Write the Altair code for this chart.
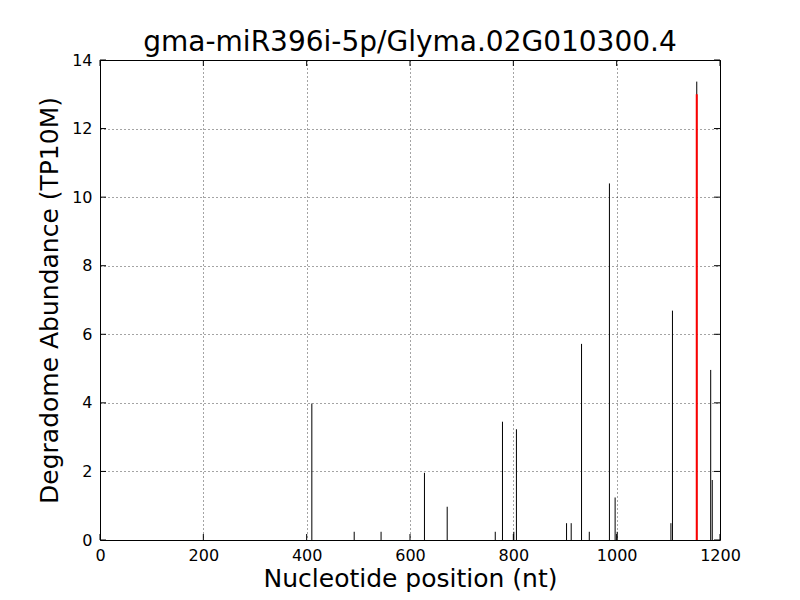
import altair as alt
import pandas as pd

# ---------------- data ----------------
chart_title = "gma-miR396i-5p/Glyma.02G010300.4"
x_title = "Nucleotide position (nt)"
y_title = "Degradome Abundance (TP10M)"

positions = [410, 492, 544, 628, 672, 765, 779, 801, 806, 903, 912, 932, 947,
             986, 997, 1001, 1105, 1108, 1155, 1182, 1185]
abundance = [3.98, 0.24, 0.24, 1.96, 0.97, 0.24, 3.45, 0.24, 3.23, 0.49, 0.49,
             5.72, 0.24, 10.40, 1.24, 0.24, 0.49, 6.69, 13.37, 4.96, 1.75]

cleavage_position = [1155]
cleavage_abundance = [13.0]

x_ticks = [0, 200, 400, 600, 800, 1000, 1200]
y_ticks = [0, 2, 4, 6, 8, 10, 12, 14]
x_domain = [0, 1200]
y_domain = [0, 14]

# ---------------- layout / style ----------------
W, H = 620, 480
FONT = "DejaVu Sans"
TICK_PX = 6
tick_dy = TICK_PX * (y_domain[1] - y_domain[0]) / H
tick_dx = TICK_PX * (x_domain[1] - x_domain[0]) / W

bars = pd.DataFrame({"pos": positions, "val": abundance})
cleave = pd.DataFrame({"pos": cleavage_position, "val": cleavage_abundance})

xt_bottom = pd.DataFrame({"x": x_ticks, "y": [y_domain[0]] * len(x_ticks),
                          "y2": [y_domain[0] + tick_dy] * len(x_ticks)})
xt_top = pd.DataFrame({"x": x_ticks, "y": [y_domain[1] - tick_dy] * len(x_ticks),
                       "y2": [y_domain[1]] * len(x_ticks)})
yt_left = pd.DataFrame({"y": y_ticks, "x": [x_domain[0]] * len(y_ticks),
                        "x2": [x_domain[0] + tick_dx] * len(y_ticks)})
yt_right = pd.DataFrame({"y": y_ticks, "x": [x_domain[1] - tick_dx] * len(y_ticks),
                         "x2": [x_domain[1]] * len(y_ticks)})

x_scale = alt.Scale(domain=x_domain, nice=False, zero=False)
y_scale = alt.Scale(domain=y_domain, nice=False)

x_axis = alt.Axis(values=x_ticks, format="d", grid=True, gridColor="black",
                  gridDash=[1, 3], gridWidth=0.8, gridOpacity=0.9, domain=False,
                  ticks=False, labelFont=FONT, labelFontSize=16, labelColor="black",
                  labelPadding=7, labelFlush=False, labelOverlap=False,
                  title=x_title, titleFont=FONT, titleFontSize=25,
                  titleFontWeight="normal", titleColor="black", titlePadding=3)
y_axis = alt.Axis(values=y_ticks, format="d", grid=True, gridColor="black",
                  gridDash=[1, 3], gridWidth=0.8, gridOpacity=0.9, domain=False,
                  ticks=False, labelFont=FONT, labelFontSize=16, labelColor="black",
                  labelPadding=8, labelFlush=False, labelOverlap=False,
                  title=y_title, titleFont=FONT, titleFontSize=25,
                  titleFontWeight="normal", titleColor="black", titlePadding=9)

base_bars = alt.Chart(bars).mark_rule(color="black", strokeWidth=1).encode(
    x=alt.X("pos:Q", scale=x_scale, axis=x_axis),
    y=alt.Y("val:Q", scale=y_scale, axis=y_axis),
    y2=alt.datum(0),
)

red = alt.Chart(cleave).mark_rule(color="#ff0000", strokeWidth=2).encode(
    x="pos:Q", y="val:Q", y2=alt.datum(0)
)

tick_style = dict(color="black", strokeWidth=1)
t1 = alt.Chart(xt_bottom).mark_rule(**tick_style).encode(x="x:Q", y="y:Q", y2="y2:Q")
t2 = alt.Chart(xt_top).mark_rule(**tick_style).encode(x="x:Q", y="y:Q", y2="y2:Q")
t3 = alt.Chart(yt_left).mark_rule(**tick_style).encode(y="y:Q", x="x:Q", x2="x2:Q")
t4 = alt.Chart(yt_right).mark_rule(**tick_style).encode(y="y:Q", x="x:Q", x2="x2:Q")

chart = alt.layer(base_bars, red, t1, t2, t3, t4).properties(
    width=W, height=H,
    title=alt.TitleParams(chart_title, font=FONT, fontSize=28, fontWeight="normal",
                          color="black", anchor="middle", offset=-5),
    autosize=alt.AutoSizeParams(type="none"),
    padding={"left": 92, "top": 52, "right": 72, "bottom": 52},
    background="white",
).configure_view(stroke="black", strokeWidth=1)

chart.save("out.html", embed_options={"renderer": "svg", "actions": False})
